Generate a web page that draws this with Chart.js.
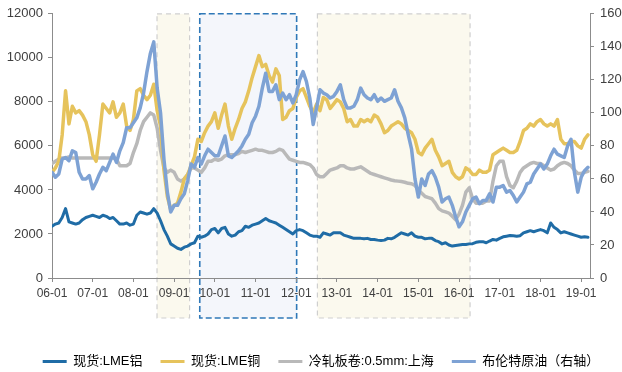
<!DOCTYPE html>
<html>
<head>
<meta charset="utf-8">
<script src="https://cdn.jsdelivr.net/npm/chart.js@4/dist/chart.umd.min.js"></script>
<style>
  html, body { margin: 0; padding: 0; background: #fff; }
  #wrap { width: 622px; height: 372px; }
</style>
</head>
<body>
<div id="wrap"><canvas id="c" width="622" height="372"></canvas></div>
<script>
// Monthly series starting 2006-01
const startYear = 2006;
const tickLabels = ['06-01','07-01','08-01','09-01','10-01','11-01','12-01','13-01','14-01','15-01','16-01','17-01','18-01','19-01'];
const seriesNames = ['现货:LME铝', '现货:LME铜', '冷轧板卷:0.5mm:上海', '布伦特原油（右轴）'];

const aluminium = [
  2350,2450,2500,2750,3150,2550,2500,2450,2500,2650,2750,2800,
  2850,2800,2750,2850,2800,2700,2750,2600,2450,2450,2500,2400,
  2450,2850,3000,2950,2900,2950,3150,2950,2600,2200,1900,1550,
  1450,1350,1300,1400,1450,1550,1600,1900,1850,1900,2000,2200,
  2250,2050,2250,2300,2000,1900,1950,2100,2150,2350,2300,2400,
  2450,2500,2600,2700,2600,2550,2500,2400,2300,2200,2100,2000,
  2150,2200,2150,2050,1950,1900,1900,1850,2050,2000,1950,2050,
  2050,2050,1950,1900,1850,1800,1800,1800,1780,1800,1750,1750,
  1720,1700,1720,1800,1780,1850,1950,2050,2000,1950,2050,1900,
  1850,1850,1780,1800,1800,1700,1650,1550,1600,1500,1450,1480,
  1500,1520,1520,1550,1560,1620,1650,1650,1600,1680,1750,1720,
  1800,1870,1900,1930,1920,1900,1920,2050,2100,2150,2100,2150,
  2200,2150,2050,2500,2300,2200,2050,2100,2050,2000,1950,1900,
  1850,1870,1850
];

const copper = [
  4800,5000,5300,6500,8500,7000,7800,7500,7600,7400,7100,6500,
  5600,5300,6500,7900,7700,7500,8000,7300,7500,7900,6900,6700,
  7200,8500,8600,8300,8100,8300,8800,7600,6900,4900,3700,3100,
  3300,3400,3900,4500,4700,5100,5500,6300,6200,6600,6900,7100,
  7500,6800,7400,7900,6900,6300,6800,7200,7700,8000,8500,9100,
  9600,10100,9600,9700,9200,8900,9500,9200,7200,7300,7600,7700,
  8200,8500,8600,8200,7800,7500,7900,7600,8200,8100,7700,7900,
  8100,8000,7700,7100,7200,6900,6900,7200,7100,7200,7100,7400,
  7300,7000,6600,6700,6900,7000,7100,7000,6800,6700,6600,6300,
  5700,5600,5900,6100,6300,5800,5500,5100,5200,5300,4800,4600,
  4500,4600,5000,4900,4700,4700,4900,4800,4800,4900,5600,5700,
  5800,5900,5800,5700,5700,5800,6200,6700,6800,7000,6900,7100,
  7200,7000,6900,7000,6900,7200,6300,6100,6100,6200,6200,6000,
  5900,6300,6500
];

const coldRolled = [
  5200,5300,5400,5450,5450,5500,5450,5450,5450,5450,5450,5450,
  5450,5450,5450,5450,5450,5450,5450,5400,5100,5100,5100,5200,
  5700,6100,6700,7100,7300,7500,7400,6800,5800,5000,4800,4900,
  4800,4500,4400,4500,4700,5000,5000,4900,4800,5000,5300,5300,
  5400,5350,5400,5550,5600,5600,5600,5650,5750,5700,5750,5800,
  5850,5800,5800,5750,5700,5700,5750,5850,5800,5600,5400,5350,
  5300,5250,5250,5200,5150,5000,4700,4600,4600,4750,4900,4950,
  5000,5100,5100,5000,4950,4950,5000,5050,4950,4850,4750,4700,
  4650,4600,4550,4500,4450,4420,4400,4380,4350,4300,4280,4200,
  4000,3850,3700,3650,3600,3400,3150,3050,3000,2950,2800,2650,
  2900,3300,3900,4100,3600,3400,3400,3400,3500,3500,4400,5100,
  5300,5300,4600,4200,4100,4400,4800,5000,5100,5200,5250,5200,
  5200,5100,5000,4900,4950,5100,5200,5250,5200,5100,4900,4750,
  4750,4800,4850
];

const brent = [
  64,61,63,72,73,71,77,76,64,60,60,62,
  54,58,63,67,65,70,75,70,77,82,91,91,
  94,97,103,112,125,136,143,115,100,72,52,40,
  44,44,48,51,59,69,67,73,69,74,78,76,
  74,74,80,86,74,73,75,77,80,84,87,94,
  98,104,115,124,113,113,117,108,112,108,111,106,
  111,120,125,119,109,93,103,114,112,111,109,110,
  113,117,108,103,103,104,108,115,111,109,108,111,
  107,109,107,108,109,114,107,103,97,87,78,60,
  49,60,56,63,65,61,55,46,48,49,44,37,
  31,34,40,44,48,49,45,47,47,51,46,55,
  55,56,52,53,50,46,49,52,57,58,63,66,
  69,66,69,74,78,75,74,73,80,84,64,52,
  61,65,67
];

// Shaded periods, in decimal years
const periods = [[2008.58, 2009.38], [2009.63, 2012.01], [2012.52, 2016.27]];

const periodStyles = [
  { fill: '#fbf9ee', stroke: '#cfcfcf', width: 1.2, dash: [5, 4] },
  { fill: '#f4f6fb', stroke: '#2f78b8', width: 1.6, dash: [6, 3] },
  { fill: '#fbf9ee', stroke: '#cfcfcf', width: 1.2, dash: [5, 4] }
];

const toPoints = arr => arr.map((v, i) => ({ x: startYear + i / 12, y: v }));

const colors = ['#1f6ca6', '#e6c35c', '#b9b9b9', '#7ea2d4'];

const periodPlugin = {
  id: 'periods',
  beforeDraw(chart) {
    const { ctx, chartArea, scales } = chart;
    const top = chartArea.top;
    const bottom = chartArea.bottom + 40;
    ctx.save();
    periods.forEach((p, i) => {
      const s = periodStyles[i];
      const x0 = scales.x.getPixelForValue(p[0]);
      const x1 = scales.x.getPixelForValue(p[1]);
      ctx.fillStyle = s.fill;
      ctx.fillRect(x0, top, x1 - x0, bottom - top);
      ctx.strokeStyle = s.stroke;
      ctx.lineWidth = s.width;
      ctx.setLineDash(s.dash);
      ctx.strokeRect(x0, top, x1 - x0, bottom - top);
    });
    ctx.restore();
  }
};

// Legend: fixed height and a slight offset to the right
const legendSizePlugin = {
  id: 'legendSize',
  beforeLayout(chart) {
    const lg = chart.legend;
    if (lg && !lg.__sized) {
      const fit = lg.fit;
      lg.fit = function () { fit.call(this); this.height = 35; };
      lg.__sized = true;
    }
  },
  afterLayout(chart) {
    const lg = chart.legend;
    if (lg) { lg.left += 10; lg.right += 10; }
  }
};

const tickFontY = { family: 'Liberation Sans, Arial, sans-serif', size: 13 };
const tickFontX = { family: 'Liberation Sans, Arial, sans-serif', size: 12 };
const axisColor = '#8c8c8c';
const tickColor = '#404040';

new Chart(document.getElementById('c'), {
  type: 'line',
  data: {
    datasets: [
      { label: seriesNames[0], data: toPoints(aluminium), borderColor: colors[0], backgroundColor: colors[0], borderWidth: 3, yAxisID: 'y', order: 0 },
      { label: seriesNames[1], data: toPoints(copper), borderColor: colors[1], backgroundColor: colors[1], borderWidth: 3.5, yAxisID: 'y', order: 2 },
      { label: seriesNames[2], data: toPoints(coldRolled), borderColor: colors[2], backgroundColor: colors[2], borderWidth: 3.5, yAxisID: 'y', order: 3 },
      { label: seriesNames[3], data: toPoints(brent), borderColor: colors[3], backgroundColor: colors[3], borderWidth: 3.5, yAxisID: 'y1', order: 1 }
    ]
  },
  options: {
    responsive: false,
    animation: false,
    layout: { padding: { top: 12, left: 0, right: 0, bottom: 0 } },
    elements: {
      point: { radius: 0 },
      line: { tension: 0, borderJoinStyle: 'round', borderCapStyle: 'round' }
    },
    plugins: {
      tooltip: { enabled: false },
      legend: {
        position: 'bottom',
        labels: {
          boxWidth: 24,
          boxHeight: 3,
          padding: 18,
          color: '#333',
          font: { family: 'Liberation Sans, Noto Sans CJK SC, sans-serif', size: 13 },
          generateLabels(chart) {
            return chart.data.datasets.map((d, i) => ({
              text: d.label, fillStyle: d.borderColor, strokeStyle: d.borderColor,
              lineWidth: 0, hidden: false, datasetIndex: i
            }));
          }
        }
      }
    },
    scales: {
      x: {
        type: 'linear',
        min: startYear,
        max: startYear + 158.6 / 12,
        afterFit(s) { s.height = 59; },
        border: { display: true, color: axisColor, width: 1 },
        grid: { display: true, drawOnChartArea: false, drawTicks: true, tickLength: 4, color: axisColor },
        ticks: {
          stepSize: 1, autoSkip: false, includeBounds: false, maxRotation: 0, padding: 4,
          color: tickColor, font: tickFontX,
          callback: v => Number.isInteger(v) ? tickLabels[v - startYear] : null
        }
      },
      y: {
        position: 'left',
        min: 0, max: 12000,
        afterFit(s) { s.width = 52; },
        border: { display: true, color: axisColor, width: 1 },
        grid: { display: true, drawOnChartArea: false, drawTicks: true, tickLength: 4, color: axisColor },
        ticks: { stepSize: 2000, padding: 5, color: tickColor, font: tickFontY, callback: v => String(v) }
      },
      y1: {
        position: 'right',
        min: 0, max: 160,
        afterFit(s) { s.width = 32; },
        border: { display: true, color: axisColor, width: 1 },
        grid: { display: true, drawOnChartArea: false, drawTicks: true, tickLength: 4, color: axisColor },
        ticks: { stepSize: 20, padding: 6, color: tickColor, font: tickFontY, callback: v => String(v) }
      }
    }
  },
  plugins: [periodPlugin, legendSizePlugin]
});
</script>
</body>
</html>
